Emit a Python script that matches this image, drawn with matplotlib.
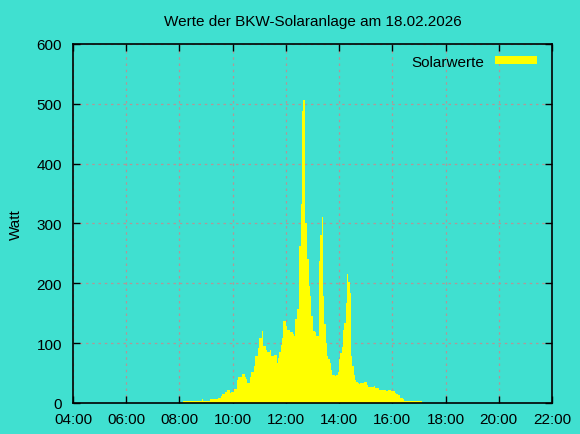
import numpy as np
import matplotlib
matplotlib.use('Agg')
import matplotlib.pyplot as plt
from matplotlib.patches import Patch

plt.rcParams['font.family'] = ['Liberation Sans', 'DejaVu Sans']

# Messwerte alle 3 Minuten ab 08:09
start_time = '08:09'
step_min = 3
watts = [
    3, 3, 3, 3, 3, 3, 3, 3, 3, 3,
    3, 4, 4, 4, 6, 4, 4, 4, 4, 4,
    6, 6, 7, 7, 6, 6, 8, 8, 12, 15,
    15, 19, 19, 22, 22, 16, 19, 19, 23, 23,
    39, 43, 43, 44, 49, 49, 44, 40, 34, 34,
    44, 52, 52, 62, 78, 78, 92, 108, 108, 121,
    95, 95, 89, 86, 86, 88, 78, 78, 80, 81,
    66, 75, 85, 97, 109, 137, 137, 128, 122, 122,
    119, 118, 115, 112, 140, 157, 157, 262, 333, 488,
    506, 301, 301, 241, 196, 179, 145, 121, 121, 118,
    112, 112, 237, 280, 310, 178, 132, 100, 79, 74,
    66, 55, 47, 47, 45, 47, 51, 73, 83, 94,
    122, 133, 167, 216, 202, 183, 78, 61, 46, 39,
    35, 34, 32, 34, 34, 34, 35, 35, 30, 27,
    27, 27, 27, 29, 25, 25, 25, 22, 22, 22,
    22, 22, 20, 20, 22, 22, 20, 20, 20, 17,
    15, 13, 13, 8, 8, 6, 4, 4, 4, 4,
    4, 4, 4, 4, 4, 3, 3, 3, 3,
]

x_ticks = [4, 6, 8, 10, 12, 14, 16, 18, 20, 22]
x_labels = ['04:00', '06:00', '08:00', '10:00', '12:00',
            '14:00', '16:00', '18:00', '20:00', '22:00']
y_ticks = [0, 100, 200, 300, 400, 500, 600]

h, m = map(int, start_time.split(':'))
t0 = h + m / 60
edges = t0 + step_min / 60 * np.arange(len(watts) + 1)
vals = np.append(watts, watts[-1])

bg = '#40e0d0'
fig = plt.figure(figsize=(5.8, 4.35), dpi=100, facecolor=bg)
ax = fig.add_axes([0.1259, 0.0713, 0.8258, 0.8253])
ax.set_facecolor(bg)

ax.fill_between(edges, vals, step='post', color='yellow', linewidth=0, zorder=2)

ax.set_xlim(4, 22)
ax.set_ylim(0, 600)
ax.set_xticks(x_ticks)
ax.set_xticklabels(x_labels)
ax.set_yticks(y_ticks)
ax.grid(True, color='#b09898', linestyle=(0, (2, 3)), linewidth=0.9, zorder=1)
ax.tick_params(direction='in', length=5, width=1, top=True, right=True,
               labelsize=11, colors='black')
ax.tick_params(axis='y', pad=8)
ax.tick_params(axis='x', pad=6.5)
for s in ax.spines.values():
    s.set_linewidth(1.2)
    s.set_zorder(3)

ax.set_ylabel('Watt', fontsize=11, labelpad=10)
ax.set_title('Werte der BKW-Solaranlage am 18.02.2026', fontsize=11, pad=14)

ax.legend(handles=[Patch(facecolor='yellow', edgecolor='none', label='Solarwerte')],
          loc='upper right', frameon=False, markerfirst=False, fontsize=11,
          handlelength=2.7, handleheight=0.45, handletextpad=0.7,
          borderaxespad=0.3, bbox_to_anchor=(0.99, 1.0))

fig.savefig('out.png', dpi=100, facecolor=bg)
